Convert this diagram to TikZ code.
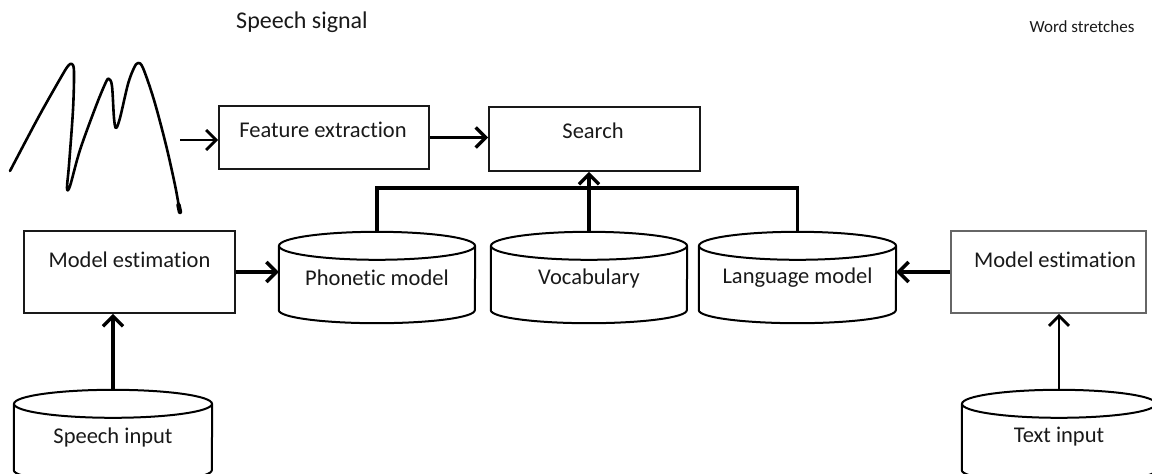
\documentclass[tikz,border=0pt]{standalone}
\usepackage{fontspec}
\setmainfont{Carlito}[Ligatures=NoCommon, RawFeature={-liga;-clig;-calt;-dlig}]
\usetikzlibrary{arrows.meta,calc}
\tikzset{
  lbl/.style={font=\fontsize{22.5}{27}\selectfont, text=black!90, inner sep=0pt},
  toplbl/.style={font=\fontsize{#1}{#1}\selectfont, text=black!90, inner sep=0pt},
  box/.style={draw=black!90, line width=1.8pt, inner sep=0pt},
  cylbody/.style={draw=none, inner sep=0pt, font=\fontsize{22.5}{27}\selectfont, text=black!90},
  cylline/.style={draw=black, line width=2pt},
  thickarrow/.style={line width=3.4pt, -{Straight Barb[length=10pt,width=20pt,line width=3.4pt]}},
  thinarrow/.style={line width=2.4pt, -{Straight Barb[length=10pt,width=20pt,line width=2.8pt]}},
  conn/.style={line width=3.4pt, line join=miter},
}
\newcommand\cylshape[3]{%
  \draw[cylline] (#1.north) ellipse[x radius=#2pt, y radius=14pt];
  \draw[cylline] (#1.north west) -- (#1.south west)
     arc[start angle=180, end angle=360, x radius=#2pt, y radius=#3pt] -- (#1.north east);
}
\begin{document}
\begin{tikzpicture}[x=1pt,y=-1pt]
\useasboundingbox (0,0) rectangle (1152,474);

% titles
\node[toplbl=24] (sigtitle) at (302,22) {Speech signal};
\node[toplbl=17] (wordtitle) at (1082,27) {Word stretches};

% waveform
\draw[line width=2.6pt, line cap=round, line join=round]
  plot[smooth, tension=0.55] coordinates {
    (10,171) (38,118) (60,79) (68,66) (72,64) (74,72) (73,110) (69,165) (67,188)
    (70,186) (80,150) (96,106) (106,82) (109,79) (112,86) (114,118) (116,128)
    (120,118) (128,84) (134,68) (138,63) (143,68) (154,100) (166,145) (175,185) (179,207)};
\draw[line width=4.5pt, line cap=round] (178.5,205) -- (180,212);
\coordinate (wend) at (180,140);

% boxes
\node[box, minimum width=210pt, minimum height=63pt] (fe) at (324,137.5) {};
\node[lbl] (fetext) at (323,130) {Feature extraction};
\node[box, minimum width=211pt, minimum height=64pt] (search) at (594.5,139) {};
\node[lbl] (searchtext) at (593,131) {Search};
\node[box, minimum width=211pt, minimum height=82pt] (me1) at (129.5,272) {};
\node[lbl] (me1text) at (129.5,260) {Model estimation};
\node[box, draw=black!60, minimum width=195pt, minimum height=82pt] (me2) at (1048.5,272) {};
\node[lbl] (me2text) at (1055,260) {Model estimation};

% cylinders
\node[cylbody, minimum width=196pt, minimum height=64pt] (pm) at (377,278) {Phonetic model};
\cylshape{pm}{98}{13}
\node[cylbody, minimum width=196pt, minimum height=64pt] (voc) at (589,278) {Vocabulary};
\cylshape{voc}{98}{13}
\node[cylbody, minimum width=197pt, minimum height=64pt] (lm) at (797.5,278) {Language model};
\cylshape{lm}{98.5}{13}
\node[cylbody, minimum width=198pt, minimum height=66pt] (si) at (113,437) {Speech input};
\cylshape{si}{99}{13}
\node[cylbody, minimum width=194pt, minimum height=66pt] (ti) at (1059,437) {Text input};
\cylshape{ti}{97}{13}

% connectors
\draw[thinarrow] (wend) -- (fe.west |- wend);
\draw[thickarrow] (fe.east) -- (search.west |- fe.east);
\draw[conn] ([yshift=14pt]pm.north) -- ++(0,-44) -| ([yshift=14pt]lm.north);
\draw[thickarrow] ([yshift=14pt]voc.north) -- (voc.north |- search.south);
\draw[thickarrow] (me1.east) -- (pm.west |- me1.east);
\draw[thickarrow] (me2.west) -- (lm.east |- me2.west);
\draw[thickarrow] ([yshift=14pt]si.north) -- (si.north |- me1.south);
\draw[thinarrow] ([yshift=14pt]ti.north) -- (ti.north |- me2.south);
\end{tikzpicture}
\end{document}
